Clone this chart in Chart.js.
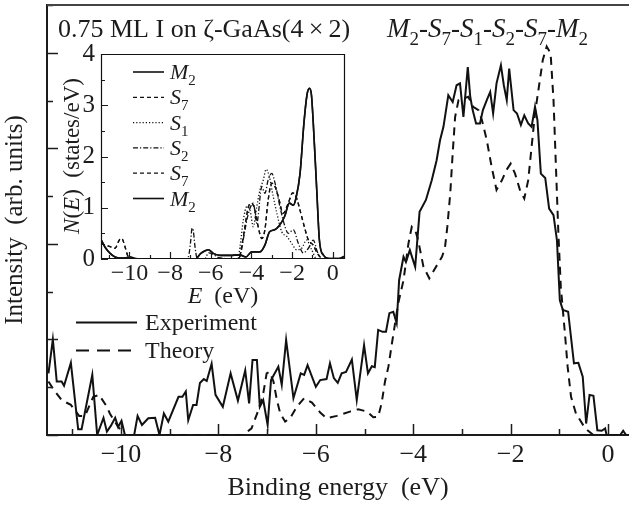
<!DOCTYPE html>
<html>
<head>
<meta charset="utf-8">
<title>0.75 ML I on GaAs(4x2) photoemission</title>
<script src="https://cdn.jsdelivr.net/npm/chart.js@4.4.1/dist/chart.umd.min.js"></script>
<style>
  html, body { margin: 0; padding: 0; background: #fff; }
  #wrap { position: relative; width: 629px; height: 506px; }
  #wrap canvas { position: absolute; left: 0; top: 0; }
</style>
</head>
<body>
<div id="wrap">
  <canvas id="main" width="629" height="506"></canvas>
  <canvas id="inset" width="629" height="506"></canvas>
</div>
<script>
// ---- main panel: photoemission spectrum ----
const expE = [-11.49,-11.40,-11.32,-11.22,-11.17,-11.03,-10.88,-10.81,-10.59,-10.49,-10.36,-10.29,-10.21,-10.12,-10.06,-9.99,-9.92,-9.73,-9.66,-9.57,-9.44,-9.30,-9.21,-9.12,-9.03,-8.82,-8.74,-8.67,-8.62,-8.52,-8.45,-8.38,-8.30,-8.24,-8.14,-8.06,-7.91,-7.75,-7.60,-7.45,-7.37,-7.30,-7.21,-7.15,-7.08,-6.99,-6.92,-6.77,-6.70,-6.61,-6.46,-6.31,-6.24,-6.17,-6.00,-5.91,-5.78,-5.71,-5.63,-5.55,-5.47,-5.38,-5.26,-5.16,-5.01,-4.93,-4.85,-4.79,-4.72,-4.63,-4.56,-4.49,-4.41,-4.34,-4.29,-4.20,-4.15,-4.07,-3.96,-3.87,-3.74,-3.62,-3.52,-3.45,-3.38,-3.28,-3.19,-3.11,-3.04,-2.97,-2.88,-2.83,-2.78,-2.71,-2.63,-2.57,-2.49,-2.42,-2.36,-2.29,-2.20,-2.14,-2.08,-2.03,-1.94,-1.87,-1.79,-1.72,-1.64,-1.57,-1.50,-1.45,-1.38,-1.29,-1.21,-1.12,-1.05,-0.99,-0.93,-0.82,-0.70,-0.61,-0.52,-0.45,-0.38,-0.30,-0.22,-0.13,-0.06,-0.03,0.25,0.31,0.37];
const expI = [1.29,2.00,1.12,1.12,1.03,1.51,0.12,0.12,1.26,0.00,0.36,0.07,0.19,0.36,0.17,0.30,0.00,0.00,0.40,0.21,0.35,0.36,0.00,0.45,0.28,0.80,0.80,0.91,0.31,0.63,0.63,1.09,1.17,1.13,1.49,0.84,0.59,1.29,0.72,1.35,0.66,1.57,1.57,0.59,0.73,0.21,1.15,1.43,1.05,1.99,0.77,1.29,1.26,1.46,1.01,1.15,1.17,1.50,1.19,1.09,1.29,1.32,1.58,0.73,1.88,1.29,1.44,1.42,2.20,2.16,2.16,2.55,2.58,2.34,3.24,3.73,3.62,3.87,3.52,4.67,4.92,5.33,5.75,6.17,6.45,7.11,6.97,7.32,7.36,6.66,7.70,7.08,6.80,6.52,6.52,6.80,7.01,7.18,6.73,7.36,7.74,7.32,7.01,7.67,6.80,6.73,6.49,6.69,6.52,6.45,6.87,6.59,5.47,5.38,4.74,4.60,4.08,2.82,2.62,2.58,1.50,1.51,1.22,0.24,0.84,0.82,0.10,0.09,0.14,0.00,0.00,0.09,0.00];

const theoE = [-11.49,-11.39,-11.22,-11.03,-10.86,-10.74,-10.57,-10.45,-10.29,-10.23,-10.06,-9.92,-7.49,-7.32,-7.18,-7.08,-7.01,-6.95,-6.87,-6.80,-6.73,-6.63,-6.53,-6.39,-6.24,-6.08,-5.91,-5.78,-5.57,-5.30,-5.13,-4.95,-4.82,-4.72,-4.65,-4.58,-4.51,-4.44,-4.31,-4.20,-4.10,-4.03,-3.96,-3.90,-3.79,-3.67,-3.55,-3.41,-3.35,-3.30,-3.24,-3.19,-3.14,-3.07,-2.97,-2.87,-2.77,-2.66,-2.59,-2.49,-2.39,-2.29,-2.18,-2.09,-2.00,-1.91,-1.81,-1.72,-1.64,-1.57,-1.50,-1.43,-1.34,-1.26,-1.18,-1.12,-1.07,-1.02,-0.97,-0.88,-0.83,-0.76,-0.66,-0.47,-0.30,0.45];
const theoI = [1.12,0.96,0.73,0.63,0.40,0.40,0.80,0.84,0.59,0.45,0.17,0.00,0.00,0.14,0.52,0.87,1.29,1.32,1.12,0.73,0.45,0.28,0.35,0.59,0.77,0.68,0.47,0.35,0.40,0.49,0.54,0.49,0.37,0.38,0.66,1.12,1.43,1.90,2.75,3.24,4.00,4.36,4.29,4.08,3.52,3.28,3.49,3.73,3.91,4.36,5.06,5.90,6.66,7.01,7.04,7.08,6.87,6.80,6.59,6.17,5.61,5.13,5.33,5.54,5.68,5.47,5.13,4.95,5.33,6.03,6.73,7.22,7.85,8.13,7.99,7.01,5.61,4.22,3.10,2.06,1.43,0.80,0.45,0.14,0.00,0.00];

const mainXTicks = [-11,-10,-9,-8,-7,-6,-5,-4,-3,-2,-1,0];
const mainYTicks = [0,1,2,3,4,5,6,7,8,9];

// ---- inset: local density of states N(E) per atom ----
const m2E = [-11.4,-11.20,-10.95,-10.71,-10.43,-10.22,-9.98,-9.73,-9.49,-6.77,-6.49,-6.28,-6.12,-5.88,-5.54,-5.06,-4.57,-4.27,-3.99,-3.58,-3.34,-3.11,-2.86,-2.62,-2.37,-2.14,-1.94,-1.81,-1.61,-1.42,-1.27,-1.15,-1.05,-0.96,-0.79,-0.66,-0.47,-0.16,0.32,0.6];
const m2N = [0.38,0.23,0.11,0.04,0.02,0.02,0.04,0.01,0,0,0.11,0.16,0.18,0.11,0.07,0.07,0.08,0.04,0.14,0.14,0.27,0.53,0.57,0.66,0.83,1.09,1.05,1.19,1.67,2.65,3.20,3.33,3.20,2.65,1.35,0.37,0.08,0.01,0.01,0.06];
const s7E = [-11.4,-11.32,-10.95,-10.71,-10.50,-10.38,-10.22,-10.06,-9.88,-4.62,-4.48,-4.32,-4.15,-3.99,-3.83,-3.67,-3.49,-3.34,-3.18,-3.00,-2.84,-2.68,-2.44,-2.19,-1.97,-1.81,-1.61,-1.42,-1.20,-0.96,-0.76,-0.45,0.6];
const s7N = [0.30,0.29,0.24,0.21,0.37,0.40,0.24,0.04,0,0,0.25,0.63,1.02,1.09,0.95,0.63,0.40,0.57,1.15,1.48,1.41,1.22,0.89,1.09,1.29,1.22,0.95,0.66,0.37,0.27,0.11,0,0];
const s1E = [-11.4,-4.67,-4.56,-4.40,-4.23,-4.07,-3.91,-3.74,-3.58,-3.42,-3.28,-3.12,-2.96,-2.75,-2.51,-2.26,-2.03,-1.78,-1.53,-1.29,-1.04,-0.79,0.6];
const s1N = [0,0,0.25,0.76,1.02,0.95,0.63,1.02,1.35,1.54,1.75,1.61,1.28,0.89,0.53,0.44,0.31,0.18,0.21,0.37,0.18,0,0];
const s2E = [-11.4,-7.16,-7.07,-6.99,-6.92,-6.86,-6.78,-6.69,-6.59,-6.30,-6.11,-5.92,-5.63,-4.67,-4.53,-4.35,-4.15,-3.91,-3.74,-3.49,-3.34,-3.18,-3.00,-2.84,-2.60,-2.35,-2.19,-1.94,-1.70,-1.45,-1.20,-0.96,-0.76,-0.55,0.6];
const s2N = [0,0,0.10,0.35,0.60,0.55,0.25,0.03,0,0,0.12,0.10,0.03,0,0.10,0.50,0.89,1.09,0.70,1.41,1.28,1.54,1.67,1.48,1.02,0.63,0.50,0.57,0.31,0.12,0.21,0.37,0.14,0,0];

const insetXTicks = [-11,-10,-9,-8,-7,-6,-5,-4,-3,-2,-1,0];
const insetYTicks = [0,0.5,1,1.5,2,2.5,3,3.5,4];

const SERIF = '"Liberation Serif", "Times New Roman", serif';
const INK = '#1c1c1c';

const pts = (xs, ys) => xs.map((x, i) => ({ x: x, y: ys[i] }));
const signed = v => (v < 0 ? '\u2212' + Math.abs(v) : String(v));

// text with italic / subscript runs
function rich(ctx, parts, x, y, size, align) {
  const font = p => (p.i ? 'italic ' : '') + Math.round(p.sub ? size * 0.7 : size) + 'px ' + SERIF;
  let w = 0;
  parts.forEach(p => { ctx.font = font(p); w += ctx.measureText(p.t).width; });
  let cx = align === 'center' ? x - w / 2 : x;
  parts.forEach(p => {
    ctx.font = font(p);
    ctx.fillText(p.t, cx, y + (p.sub ? size * 0.28 : 0));
    cx += ctx.measureText(p.t).width;
  });
}

// tick marks pointing into the plot, plus frame lines
const innerTicks = {
  id: 'innerTicks',
  afterDatasetsDraw(chart, args, o) {
    const ctx = chart.ctx, a = chart.chartArea;
    const xs = chart.scales.x, ys = chart.scales.y;
    ctx.save();
    ctx.strokeStyle = INK;
    ctx.lineWidth = o.width;
    ctx.beginPath();
    xs.ticks.forEach(t => {
      const px = Math.round(xs.getPixelForValue(t.value)) + 0.5;
      const len = t.value % 2 === 0 ? o.xMajor : o.xMinor;
      ctx.moveTo(px, a.bottom); ctx.lineTo(px, a.bottom - len);
    });
    ys.ticks.forEach(t => {
      const py = Math.round(ys.getPixelForValue(t.value)) + 0.5;
      const len = Number.isInteger(t.value / o.yStep) && (t.value / o.yStep) % 2 === 0 ? o.yMajor : o.yMinor;
      ctx.moveTo(a.left, py); ctx.lineTo(a.left + len, py);
    });
    ctx.stroke();
    ctx.lineWidth = o.frame;
    ctx.strokeStyle = o.frameColor;
    ctx.beginPath();
    if (o.box) {
      ctx.rect(a.left + 0.5, a.top + 0.5, a.right - a.left - 1, a.bottom - a.top - 1);
    } else {
      ctx.moveTo(a.left, a.top); ctx.lineTo(a.right, a.top);
    }
    ctx.stroke();
    ctx.restore();
  }
};

const mainText = {
  id: 'mainText',
  afterDraw(chart) {
    const ctx = chart.ctx;
    ctx.save();
    ctx.fillStyle = INK;
    ctx.textBaseline = 'alphabetic';
    rich(ctx, [{ t: '0.75 ML I on \u03B6-GaAs(4\u2009\u00D7\u20092)' }], 58, 37, 26, 'left');
    rich(ctx, [
      { t: 'M', i: 1 }, { t: '2', sub: 1 }, { t: '-' }, { t: 'S', i: 1 }, { t: '7', sub: 1 }, { t: '-' },
      { t: 'S', i: 1 }, { t: '1', sub: 1 }, { t: '-' }, { t: 'S', i: 1 }, { t: '2', sub: 1 }, { t: '-' },
      { t: 'S', i: 1 }, { t: '7', sub: 1 }, { t: '-' }, { t: 'M', i: 1 }, { t: '2', sub: 1 }
    ], 387, 37, 27, 'left');
    // legend
    ctx.strokeStyle = '#111';
    ctx.lineWidth = 2;
    ctx.beginPath(); ctx.moveTo(76, 322.5); ctx.lineTo(137, 322.5); ctx.stroke();
    ctx.setLineDash([13, 8]);
    ctx.beginPath(); ctx.moveTo(76, 350.5); ctx.lineTo(137, 350.5); ctx.stroke();
    ctx.setLineDash([]);
    rich(ctx, [{ t: 'Experiment' }], 145, 330, 24, 'left');
    rich(ctx, [{ t: 'Theory' }], 145, 358, 24, 'left');
    ctx.restore();
  }
};

const insetStyles = [
  { name: 'M', sub: '2', E: m2E, N: m2N, dash: [], w: 1.6 },
  { name: 'S', sub: '7', E: s7E, N: s7N, dash: [4, 3], w: 1.3 },
  { name: 'S', sub: '1', E: s1E, N: s1N, dash: [1.2, 2], w: 1.3 },
  { name: 'S', sub: '2', E: s2E, N: s2N, dash: [5, 2, 1.2, 2], w: 1.3 },
  { name: 'S', sub: '7', E: s7E, N: s7N, dash: [4, 3], w: 1.3 },
  { name: 'M', sub: '2', E: m2E, N: m2N, dash: [], w: 1.6 }
];

const insetText = {
  id: 'insetText',
  afterDraw(chart) {
    const ctx = chart.ctx;
    ctx.save();
    ctx.fillStyle = INK;
    ctx.textBaseline = 'middle';
    rich(ctx, [{ t: 'E', i: 1 }, { t: '  (eV)' }], 223, 297, 24, 'center');
    ctx.translate(73, 156);
    ctx.rotate(-Math.PI / 2);
    rich(ctx, [{ t: 'N', i: 1 }, { t: '(' }, { t: 'E', i: 1 }, { t: ')  (states/eV)' }], 0, 0, 23, 'center');
    ctx.restore();

    ctx.save();
    ctx.fillStyle = INK;
    ctx.strokeStyle = '#111';
    ctx.textBaseline = 'alphabetic';
    insetStyles.forEach((s, i) => {
      const y = 72 + i * 25.3;
      ctx.lineWidth = s.w;
      ctx.setLineDash(s.dash);
      ctx.beginPath(); ctx.moveTo(133, y); ctx.lineTo(164, y); ctx.stroke();
      rich(ctx, [{ t: s.name, i: 1 }, { t: s.sub, sub: 1 }], 170, y + 7, 22, 'left');
    });
    ctx.restore();
  }
};

new Chart(document.getElementById('main'), {
  type: 'line',
  data: {
    datasets: [
      { label: 'Experiment', data: pts(expE, expI), borderColor: '#111', borderWidth: 2, pointRadius: 0, tension: 0, fill: false },
      { label: 'Theory', data: pts(theoE, theoI), borderColor: '#111', borderWidth: 2, borderDash: [8, 6], pointRadius: 0, tension: 0, fill: false }
    ]
  },
  options: {
    responsive: false,
    animation: false,
    events: [],
    layout: { padding: { left: 0, right: 0, top: 5, bottom: 0 } },
    plugins: {
      legend: { display: false },
      tooltip: { enabled: false },
      innerTicks: { width: 1.5, xMajor: 11, xMinor: 6, yMajor: 11, yMinor: 6, yStep: 1, frame: 2, frameColor: '#444', box: false }
    },
    scales: {
      x: {
        type: 'linear', min: -11.52, max: 0.43,
        afterBuildTicks: s => { s.ticks = mainXTicks.map(v => ({ value: v })); },
        afterFit: s => { s.height = 71; },
        grid: { display: true, drawOnChartArea: false, drawTicks: false },
        border: { display: true, color: INK, width: 2 },
        ticks: { autoSkip: false, maxRotation: 0, padding: 5, color: INK, font: { family: SERIF, size: 26 },
                 callback: v => (v % 2 === 0 ? signed(v) : '') },
        title: { display: true, text: 'Binding energy  (eV)', color: INK, font: { family: SERIF, size: 26 }, padding: { top: 0, bottom: 2 } }
      },
      y: {
        type: 'linear', min: 0, max: 9,
        afterBuildTicks: s => { s.ticks = mainYTicks.map(v => ({ value: v })); },
        afterFit: s => { s.width = 47; },
        grid: { display: true, drawOnChartArea: false, drawTicks: false },
        border: { display: true, color: INK, width: 2 },
        ticks: { display: false },
        title: { display: true, text: 'Intensity  (arb. units)', color: INK, font: { family: SERIF, size: 25 }, padding: { top: 0, bottom: 0 } }
      }
    }
  },
  plugins: [innerTicks, mainText]
});

new Chart(document.getElementById('inset'), {
  type: 'line',
  data: {
    datasets: insetStyles.map(s => ({
      label: s.name + s.sub,
      data: pts(s.E, s.N),
      borderColor: '#111', borderWidth: s.w, borderDash: s.dash,
      pointRadius: 0, tension: 0.35, cubicInterpolationMode: 'monotone', fill: false
    }))
  },
  options: {
    responsive: false,
    animation: false,
    events: [],
    layout: { padding: { left: 61, right: 284, top: 54, bottom: 217 } },
    plugins: {
      legend: { display: false },
      tooltip: { enabled: false },
      innerTicks: { width: 1.2, xMajor: 7, xMinor: 4, yMajor: 7, yMinor: 4, yStep: 0.5, frame: 1.2, frameColor: '#111', box: true }
    },
    scales: {
      x: {
        type: 'linear', min: -11.4, max: 0.6,
        afterBuildTicks: s => { s.ticks = insetXTicks.map(v => ({ value: v })); },
        afterFit: s => { s.height = 30; },
        grid: { display: false, drawTicks: false },
        border: { display: false },
        ticks: { autoSkip: false, maxRotation: 0, padding: 0, color: INK, font: { family: SERIF, size: 24 },
                 callback: v => (v % 2 === 0 ? signed(v) : '') }
      },
      y: {
        type: 'linear', min: 0, max: 4,
        afterBuildTicks: s => { s.ticks = insetYTicks.map(v => ({ value: v })); },
        afterFit: s => { s.width = 40; },
        grid: { display: false, drawTicks: false },
        border: { display: false },
        ticks: { autoSkip: false, padding: 6, color: INK, font: { family: SERIF, size: 25 },
                 callback: v => (Number.isInteger(v) ? String(v) : '') }
      }
    }
  },
  plugins: [innerTicks, insetText]
});
</script>
</body>
</html>
